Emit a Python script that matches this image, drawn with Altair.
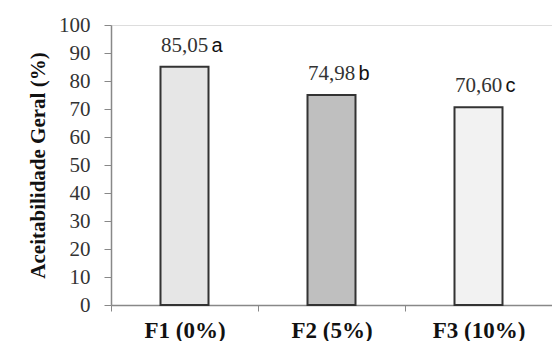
import altair as alt
import pandas as pd

categories = ["F1 (0%)", "F2 (5%)", "F3 (10%)"]
values = [85.05, 74.98, 70.60]
value_labels = ["85,05", "74,98", "70,60"]
letters = ["a", "b", "c"]
fills = ["#e6e6e6", "#bfbfbf", "#f2f2f2"]

df = pd.DataFrame({"cat": categories, "val": values, "lab": value_labels,
                   "let": letters, "fill": fills})

x = alt.X("cat:N", sort=categories, title=None,
          axis=alt.Axis(labelAngle=0, tickBand="extent", labelFont="Liberation Serif",
                        labelFontSize=23, labelFontWeight="bold", labelColor="#111",
                        domainColor="#888", tickColor="#888", tickSize=6, labelPadding=8,
                        domainWidth=1.5),
          scale=alt.Scale(paddingInner=0, paddingOuter=0))
y = alt.Y("val:Q", title="Aceitabilidade Geral (%)",
          scale=alt.Scale(domain=[0, 100]),
          axis=alt.Axis(values=list(range(0, 101, 10)), grid=False,
                        labelFont="Liberation Serif", labelFontSize=21, labelColor="#333",
                        titleFont="Liberation Serif", titleFontSize=21, titleFontWeight="bold",
                        titleColor="#111", domainColor="#888", tickColor="#888", tickSize=7,
                        labelPadding=14, titlePadding=10, domainWidth=1.5))

base = alt.Chart(df)
bars = base.mark_bar(size=48, stroke="#333", strokeWidth=2).encode(
    x=x, y=y, fill=alt.Fill("fill:N", scale=None))
nums = base.mark_text(font="Liberation Serif", fontSize=21, baseline="alphabetic",
                      dy=-15, color="#333").encode(x=x, y=y, text="lab:N")
lets = base.mark_text(font="Liberation Sans", fontSize=20, baseline="alphabetic",
                      align="left", dx=27, dy=-15, color="#111").encode(x=x, y=y, text="let:N")

chart = (bars + nums + lets).properties(
    width=441, height=280,
    autosize=alt.AutoSizeParams(type="none"),
    padding={"left": 111, "top": 25, "right": 0, "bottom": 36},
).configure_view(stroke=None).configure(background="white")

chart.save("out.html", embed_options={"renderer": "svg", "actions": False})
